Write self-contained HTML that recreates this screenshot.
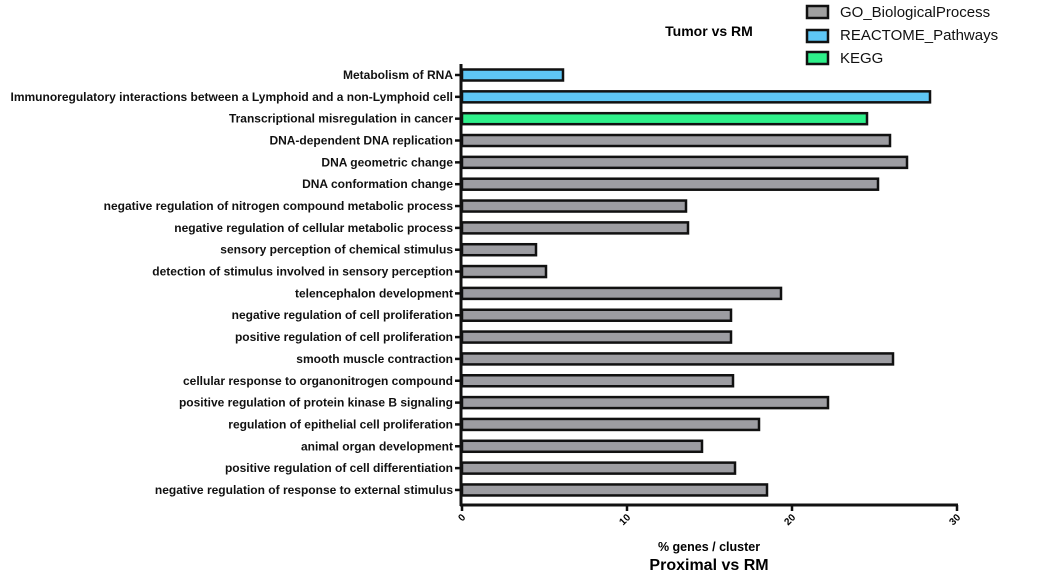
<!DOCTYPE html><html><head><style>body{margin:0;background:#fff}</style></head><body>
<svg width="1040" height="576" xmlns="http://www.w3.org/2000/svg" font-family="Liberation Sans, Arial, sans-serif">
<rect width="1040" height="576" fill="#fff"/>
<text x="709" y="36" font-size="14" font-weight="bold" text-anchor="middle">Tumor vs RM</text>
<g stroke="#111" stroke-width="2.5">
<rect x="807" y="6" width="21" height="12" fill="#a0a0a0"/>
<rect x="807" y="30" width="21" height="12" fill="#5ec6f5"/>
<rect x="807" y="52" width="21" height="12" fill="#2ef08a"/>
</g>
<g font-size="15" fill="#111">
<text x="840" y="17">GO_BiologicalProcess</text>
<text x="840" y="40">REACTOME_Pathways</text>
<text x="840" y="63">KEGG</text>
</g>
<g id="bars" stroke="#111" stroke-width="2.5"></g>
<g id="labels" font-size="12" font-weight="bold" text-anchor="end" fill="#111"></g>
<line x1="461" y1="64" x2="461" y2="506" stroke="#111" stroke-width="3"/>
<line x1="460" y1="505" x2="958" y2="505" stroke="#111" stroke-width="3"/>
<g stroke="#111" stroke-width="2.5">
<line x1="462" y1="505" x2="462" y2="511"/><line x1="627" y1="505" x2="627" y2="511"/>
<line x1="792" y1="505" x2="792" y2="511"/><line x1="957" y1="505" x2="957" y2="511"/>
</g>
<g font-size="10" font-weight="bold" text-anchor="end">
<text transform="translate(466,518) rotate(-45)">0</text>
<text transform="translate(631,518) rotate(-45)">10</text>
<text transform="translate(796,518) rotate(-45)">20</text>
<text transform="translate(961,518) rotate(-45)">30</text>
</g>
<text x="709" y="551" font-size="12.5" font-weight="bold" text-anchor="middle">% genes / cluster</text>
<text x="709" y="570" font-size="16" font-weight="bold" text-anchor="middle">Proximal vs RM</text>
<script>
var d=[["Metabolism of RNA",564,"#5ec6f5"],["Immunoregulatory interactions between a Lymphoid and a non-Lymphoid cell",931,"#5ec6f5"],["Transcriptional misregulation in cancer",868,"#2ef08a"],["DNA-dependent DNA replication",891],["DNA geometric change",908],["DNA conformation change",879],["negative regulation of nitrogen compound metabolic process",687],["negative regulation of cellular metabolic process",689],["sensory perception of chemical stimulus",537],["detection of stimulus involved in sensory perception",547],["telencephalon development",782],["negative regulation of cell proliferation",732],["positive regulation of cell proliferation",732],["smooth muscle contraction",894],["cellular response to organonitrogen compound",734],["positive regulation of protein kinase B signaling",829],["regulation of epithelial cell proliferation",760],["animal organ development",703],["positive regulation of cell differentiation",736],["negative regulation of response to external stimulus",768]];
var ns="http://www.w3.org/2000/svg",b=document.getElementById("bars"),l=document.getElementById("labels");
d.forEach(function(r,i){var y=75+i*21.84;
var e=document.createElementNS(ns,"rect");e.setAttribute("x",462);e.setAttribute("y",y-5.5);e.setAttribute("width",r[1]-463);e.setAttribute("height",11);e.setAttribute("fill",r[2]||"#9d9da2");b.appendChild(e);
var t=document.createElementNS(ns,"line");t.setAttribute("x1",455);t.setAttribute("x2",461);t.setAttribute("y1",y);t.setAttribute("y2",y);b.appendChild(t);
var x=document.createElementNS(ns,"text");x.setAttribute("x",453);x.setAttribute("y",y+4);x.textContent=r[0];l.appendChild(x);});
</script>
</svg></body></html>
